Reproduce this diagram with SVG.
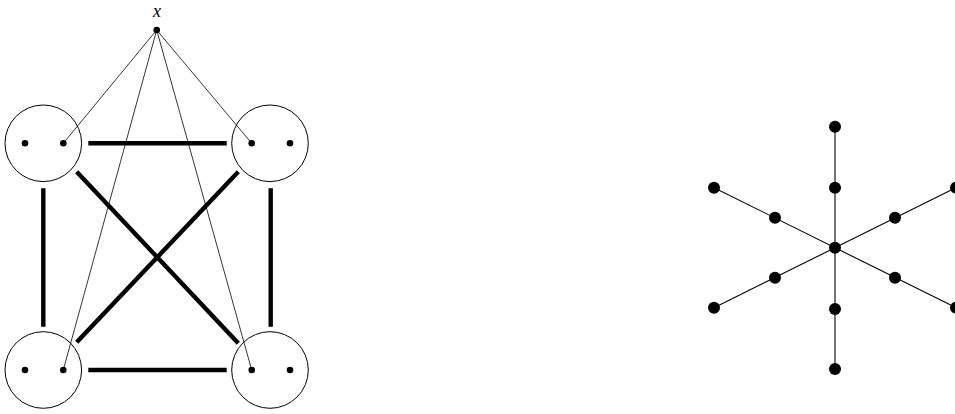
<svg xmlns="http://www.w3.org/2000/svg" width="955" height="414" viewBox="0 0 955 414">
<style>
.bag{fill:none;stroke:#000;stroke-width:1}
.thick{stroke:#000;stroke-width:4.4;fill:none}
.thin{stroke:#000;stroke-width:0.8;fill:none}
.star{stroke:#000;stroke-width:1.1;fill:none}
.d{fill:#000}
</style>
<rect width="955" height="414" fill="#fff"/>
<g id="connectors">
<line class="thin" x1="156.7" y1="30" x2="63.3" y2="143.3"/>
<line class="thin" x1="156.7" y1="30" x2="251.7" y2="143.3"/>
<line class="thin" x1="156.7" y1="30" x2="63.3" y2="370"/>
<line class="thin" x1="156.7" y1="30" x2="251.7" y2="370"/>
<line class="thick" x1="88.3" y1="143.3" x2="226.7" y2="143.3"/>
<line class="thick" x1="88.3" y1="370" x2="226.7" y2="370"/>
<line class="thick" x1="43.3" y1="188.3" x2="43.3" y2="326.7"/>
<line class="thick" x1="270.7" y1="188.3" x2="270.7" y2="326.7"/>
<line class="thick" x1="76.7" y1="171.7" x2="238.3" y2="343.3"/>
<line class="thick" x1="238.3" y1="171.7" x2="76.7" y2="342.3"/>
<line class="star" x1="835" y1="126.7" x2="835" y2="369"/>
<line class="star" x1="714" y1="187.7" x2="956" y2="307.7"/>
<line class="star" x1="714" y1="307.7" x2="956" y2="187.7"/>
</g>
<g id="x">
<circle class="d" cx="156.7" cy="30" r="3.3"/>
<text x="157" y="16.5" text-anchor="middle" font-family="Liberation Serif, serif" font-style="italic" font-size="18">x</text>
</g>
<g id="bag-tl">
<circle class="bag" cx="43.3" cy="143.3" r="38.3"/>
<circle class="d" cx="25" cy="143.3" r="3.3"/>
<circle class="d" cx="63.3" cy="143.3" r="3.3"/>
</g>
<g id="bag-tr">
<circle class="bag" cx="270" cy="143.3" r="38.3"/>
<circle class="d" cx="251.7" cy="143.3" r="3.3"/>
<circle class="d" cx="290" cy="143.3" r="3.3"/>
</g>
<g id="bag-bl">
<circle class="bag" cx="43.3" cy="370" r="38.3"/>
<circle class="d" cx="25" cy="370" r="3.3"/>
<circle class="d" cx="63.3" cy="370" r="3.3"/>
</g>
<g id="bag-br">
<circle class="bag" cx="270" cy="370" r="38.3"/>
<circle class="d" cx="251.7" cy="370" r="3.3"/>
<circle class="d" cx="290" cy="370" r="3.3"/>
</g>
<g id="star">
<circle class="d" cx="835" cy="247.7" r="6"/>
<circle class="d" cx="835" cy="126.7" r="6"/>
<circle class="d" cx="835" cy="187.7" r="6"/>
<circle class="d" cx="835" cy="309" r="6"/>
<circle class="d" cx="835" cy="369" r="6"/>
<circle class="d" cx="714" cy="187.7" r="6"/>
<circle class="d" cx="775" cy="217.7" r="6"/>
<circle class="d" cx="895" cy="277.7" r="6"/>
<circle class="d" cx="956" cy="307.7" r="6"/>
<circle class="d" cx="714" cy="307.7" r="6"/>
<circle class="d" cx="775" cy="277.7" r="6"/>
<circle class="d" cx="895" cy="217.7" r="6"/>
<circle class="d" cx="956" cy="187.7" r="6"/>
</g>
</svg>
